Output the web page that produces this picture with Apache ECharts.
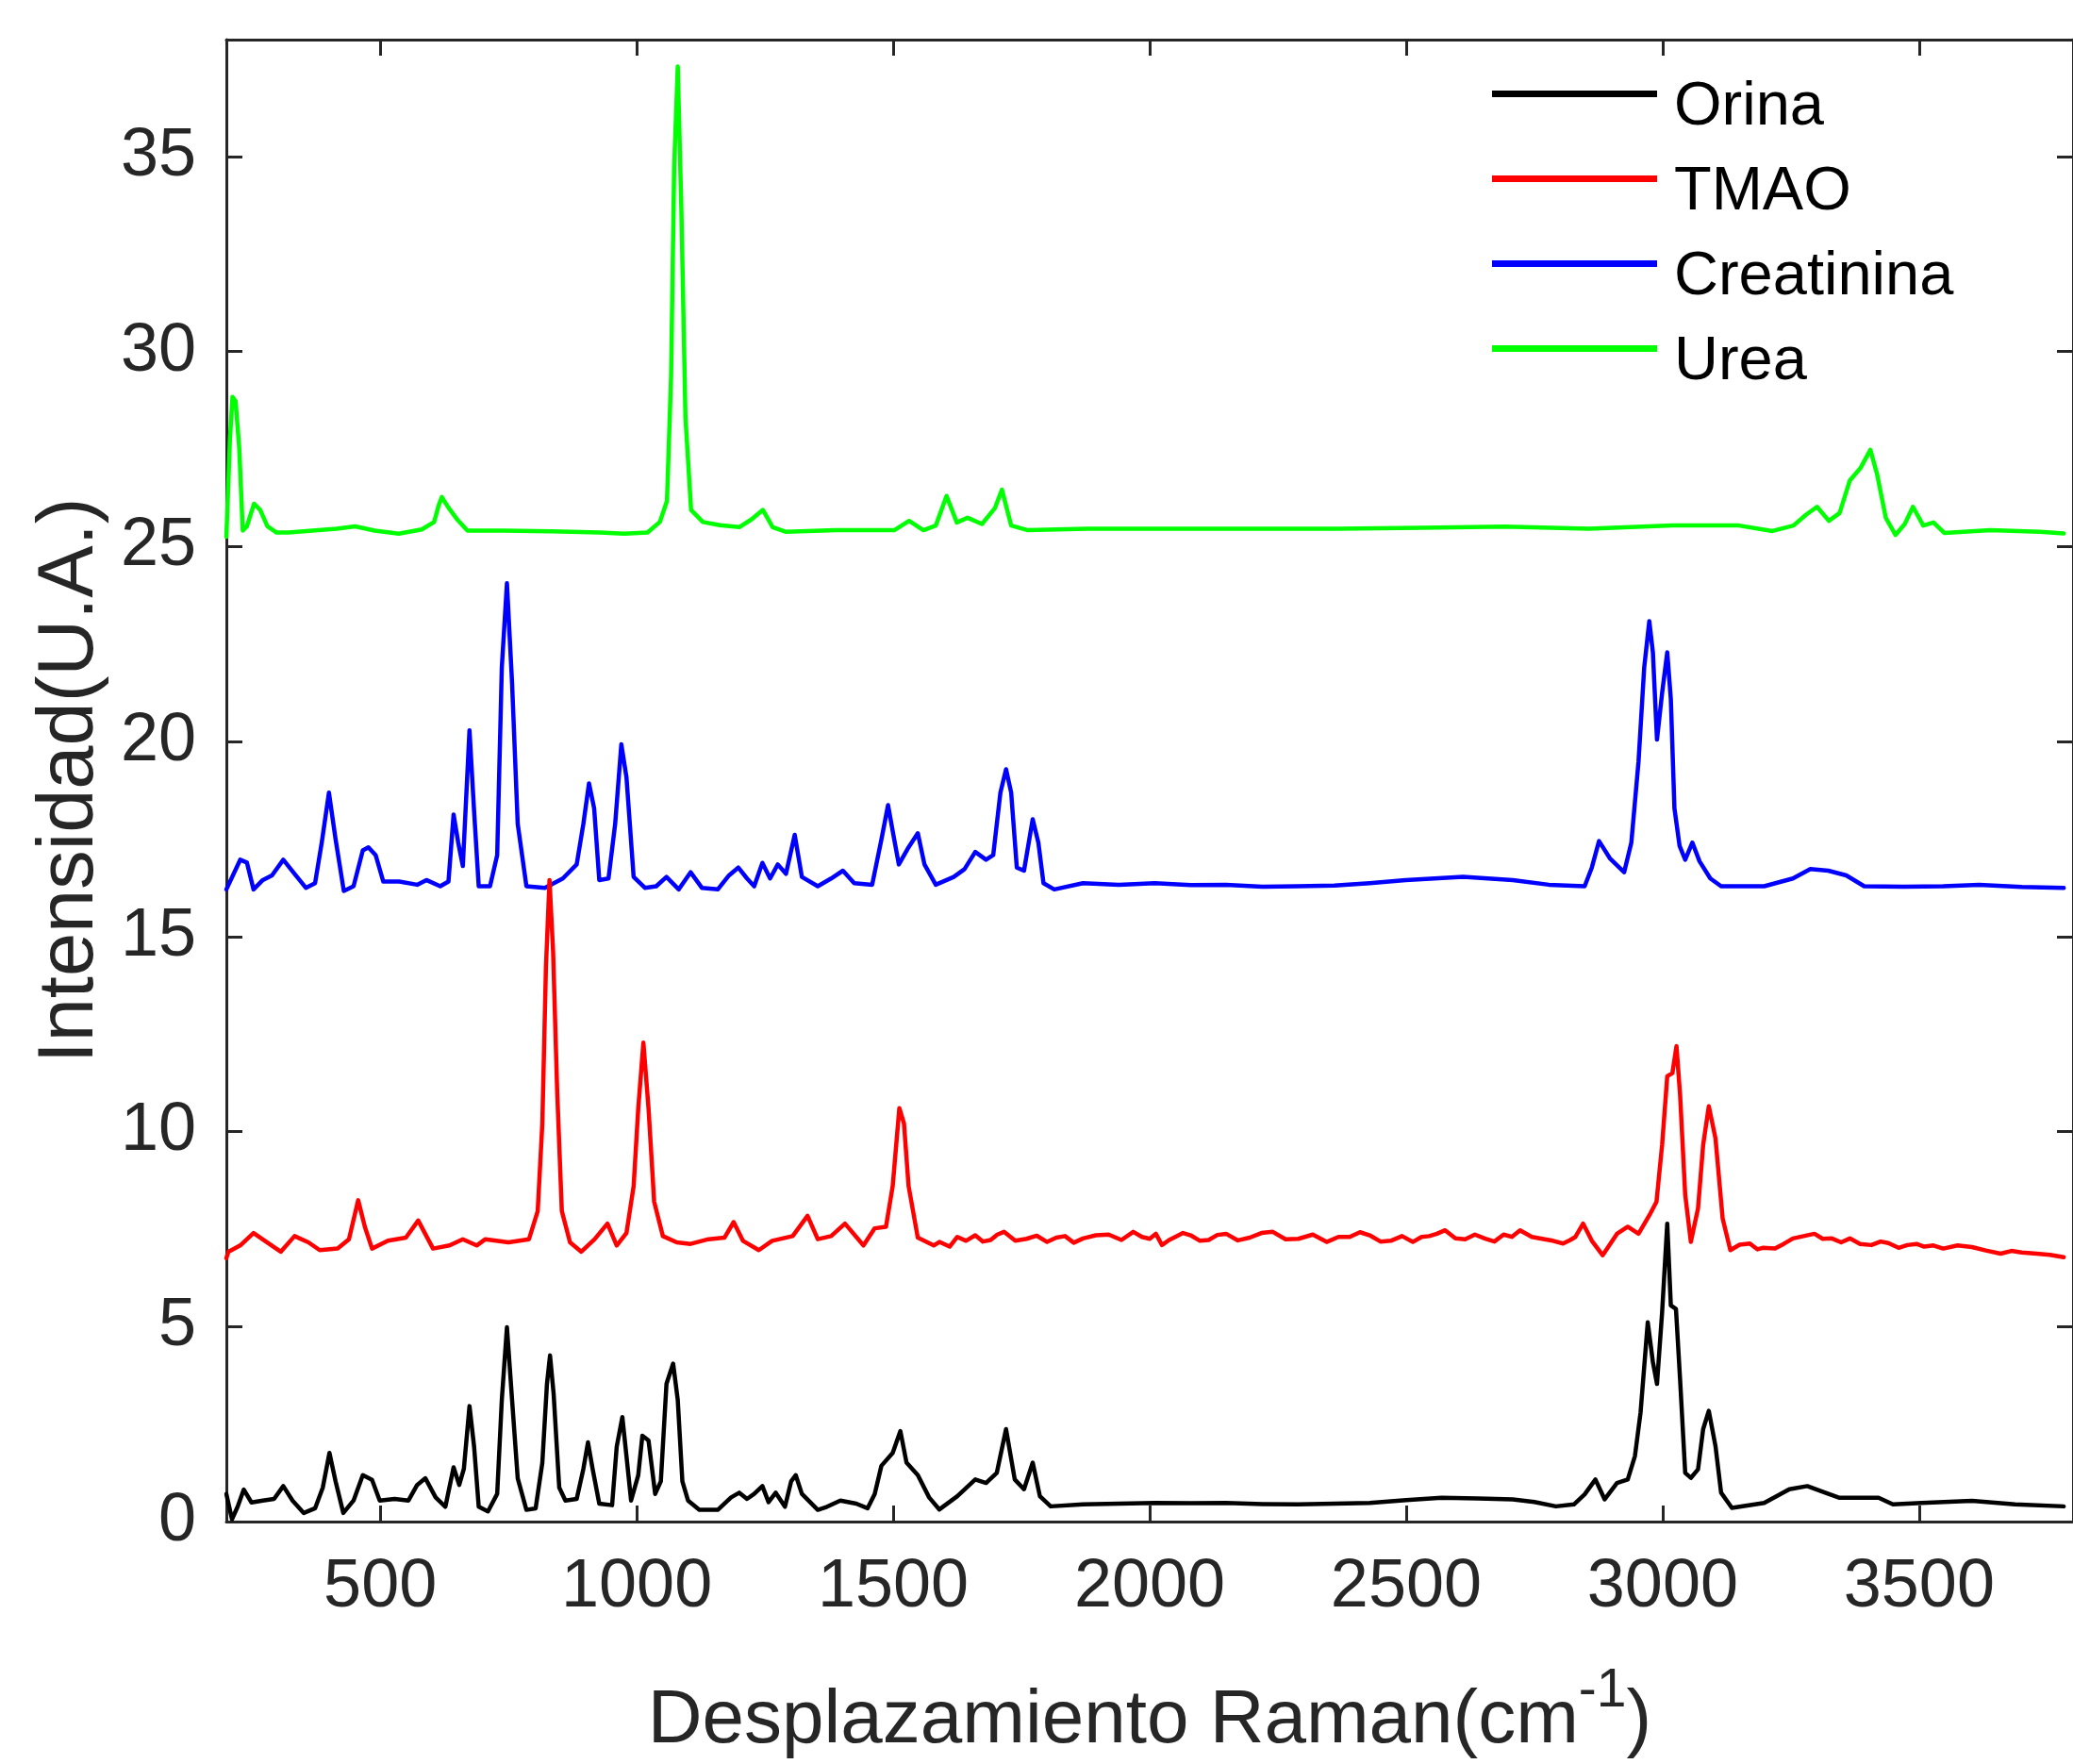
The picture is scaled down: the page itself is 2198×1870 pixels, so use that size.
<!DOCTYPE html>
<html>
<head>
<meta charset="utf-8">
<script src="https://cdn.jsdelivr.net/npm/echarts@6/dist/echarts.min.js"></script>
<style>
html,body{margin:0;padding:0;background:#fff;}
#chart{width:2198px;height:1870px;}
</style>
</head>
<body>
<div id="chart"></div>
<script>
// ---- data (Raman shift cm-1, intensity U.A.) ----
const seriesNames = ['Orina', 'TMAO', 'Creatinina', 'Urea'];
const xTicks = [500, 1000, 1500, 2000, 2500, 3000, 3500];
const yTicks = [0, 5, 10, 15, 20, 25, 30, 35];

const orina = [
[200,0.71],[211,0.06],[222,0.38],[234,0.82],[249,0.49],[271,0.54],[293,0.58],[311,0.91],[329,0.54],[351,0.22],
[373,0.34],[388,0.87],[401,1.76],[413,1.03],[428,0.22],[448,0.54],[466,1.19],[484,1.07],[499,0.54],[528,0.58],
[555,0.54],[572,0.94],[588,1.11],[608,0.62],[627,0.38],[643,1.39],[654,0.94],[663,1.35],[674,2.96],[683,1.92],
[692,0.38],[710,0.26],[728,0.71],[737,3.12],[747,4.98],[757,3.12],[768,1.11],[785,0.30],[803,0.34],[816,1.51],
[825,3.53],[831,4.26],[838,3.28],[849,0.87],[861,0.54],[883,0.58],[896,1.35],[905,2.03],[914,1.35],[927,0.46],
[952,0.42],[961,1.92],[972,2.68],[980,1.68],[989,0.54],[1003,1.19],[1011,2.20],[1023,2.08],[1036,0.71],[1047,1.03],
[1058,3.53],[1071,4.05],[1080,3.12],[1089,1.03],[1100,0.54],[1122,0.30],[1158,0.30],[1184,0.62],[1200,0.74],[1215,0.58],
[1229,0.71],[1245,0.91],[1257,0.50],[1271,0.74],[1289,0.38],[1301,1.03],[1310,1.19],[1322,0.71],[1353,0.30],[1371,0.38],
[1397,0.54],[1428,0.46],[1450,0.34],[1464,0.71],[1477,1.43],[1499,1.76],[1514,2.32],[1526,1.51],[1548,1.19],[1570,0.62],
[1590,0.31],[1625,0.65],[1660,1.08],[1681,0.99],[1702,1.25],[1720,2.37],[1737,1.08],[1755,0.83],[1772,1.51],[1786,0.65],
[1807,0.39],[1870,0.44],[1940,0.46],[2010,0.48],[2080,0.47],[2149,0.48],[2220,0.45],[2289,0.44],[2360,0.46],[2429,0.48],
[2500,0.55],[2569,0.61],[2640,0.59],[2708,0.57],[2750,0.50],[2792,0.39],[2827,0.44],[2848,0.70],[2869,1.08],[2887,0.57],
[2911,0.99],[2932,1.08],[2946,1.68],[2957,2.80],[2971,5.11],[2981,4.09],[2989,3.53],[2999,5.37],[3009,7.64],[3016,5.54],
[3026,5.45],[3034,3.65],[3044,1.25],[3055,1.12],[3069,1.34],[3079,2.37],[3090,2.84],[3103,1.94],[3114,0.74],[3135,0.35],
[3198,0.48],[3247,0.83],[3282,0.91],[3317,0.74],[3345,0.61],[3421,0.61],[3449,0.44],[3505,0.48],[3603,0.53],[3687,0.44],
[3782,0.39]
];

const tmao = [
[200,6.75],[204,6.92],[227,7.08],[253,7.40],[275,7.20],[306,6.92],[333,7.32],[360,7.16],[382,6.96],[417,7.00],
[439,7.24],[457,8.24],[470,7.56],[484,7.00],[515,7.20],[550,7.28],[574,7.72],[590,7.32],[603,7.00],[635,7.08],
[661,7.24],[688,7.08],[705,7.24],[750,7.16],[790,7.24],[807,7.96],[816,10.21],[823,14.21],[830,16.45],[837,14.61],
[845,11.01],[854,7.96],[870,7.16],[892,6.92],[918,7.24],[943,7.64],[961,7.08],[980,7.40],[994,8.60],[1003,10.60],
[1013,12.28],[1023,10.60],[1034,8.20],[1051,7.32],[1078,7.16],[1105,7.12],[1140,7.24],[1171,7.28],[1189,7.68],[1207,7.20],
[1238,6.96],[1264,7.20],[1304,7.32],[1333,7.84],[1353,7.24],[1379,7.32],[1406,7.64],[1442,7.08],[1464,7.52],[1486,7.56],
[1499,8.60],[1512,10.60],[1521,10.21],[1530,8.60],[1548,7.28],[1579,7.08],[1590,7.17],[1610,7.05],[1625,7.30],[1642,7.20],
[1660,7.34],[1675,7.18],[1690,7.22],[1703,7.36],[1716,7.43],[1738,7.20],[1760,7.25],[1780,7.33],[1800,7.17],[1818,7.28],
[1835,7.32],[1852,7.15],[1870,7.26],[1895,7.34],[1920,7.36],[1945,7.22],[1968,7.43],[1985,7.30],[2000,7.25],[2012,7.38],
[2024,7.09],[2038,7.22],[2050,7.30],[2065,7.40],[2080,7.34],[2098,7.20],[2115,7.22],[2132,7.35],[2149,7.38],[2172,7.21],
[2195,7.28],[2218,7.40],[2240,7.43],[2265,7.24],[2290,7.25],[2318,7.36],[2345,7.17],[2368,7.30],[2390,7.30],[2410,7.42],
[2429,7.34],[2450,7.18],[2470,7.20],[2492,7.32],[2513,7.17],[2530,7.30],[2545,7.32],[2560,7.38],[2576,7.47],[2596,7.26],
[2615,7.24],[2634,7.36],[2653,7.26],[2672,7.18],[2690,7.36],[2706,7.30],[2722,7.47],[2745,7.30],[2765,7.25],[2786,7.20],
[2806,7.13],[2820,7.22],[2830,7.30],[2845,7.64],[2862,7.20],[2883,6.83],[2911,7.38],[2932,7.56],[2953,7.38],[2974,7.85],
[2988,8.20],[2999,9.66],[3009,11.42],[3019,11.50],[3027,12.19],[3034,10.95],[3044,8.38],[3055,7.17],[3069,8.03],[3079,9.66],
[3090,10.65],[3103,9.83],[3117,7.77],[3132,6.96],[3150,7.10],[3170,7.13],[3185,6.98],[3195,7.02],[3219,7.00],[3236,7.12],
[3254,7.26],[3275,7.32],[3296,7.38],[3312,7.25],[3330,7.26],[3348,7.16],[3365,7.26],[3385,7.12],[3407,7.09],[3425,7.18],
[3440,7.14],[3460,7.02],[3477,7.09],[3495,7.12],[3510,7.05],[3528,7.08],[3547,7.00],[3575,7.08],[3603,7.04],[3630,6.95],
[3659,6.87],[3680,6.94],[3700,6.90],[3729,6.87],[3755,6.84],[3782,6.78]
];

const creatinina = [
[200,16.21],[227,16.97],[240,16.90],[253,16.21],[271,16.45],[289,16.57],[311,16.97],[333,16.61],[355,16.25],[373,16.37],
[386,17.41],[400,18.69],[413,17.49],[429,16.17],[448,16.29],[466,17.21],[477,17.29],[491,17.09],[506,16.41],[537,16.41],
[572,16.33],[590,16.45],[617,16.29],[633,16.41],[643,18.13],[652,17.41],[661,16.81],[674,20.29],[683,18.21],[692,16.29],
[714,16.29],[728,17.09],[737,21.90],[747,24.06],[757,21.50],[768,17.89],[785,16.29],[821,16.25],[856,16.49],[883,16.85],
[896,17.89],[907,18.93],[917,18.29],[927,16.45],[945,16.49],[958,17.89],[970,19.93],[980,19.09],[994,16.53],[1016,16.25],
[1038,16.29],[1058,16.53],[1082,16.21],[1105,16.65],[1127,16.25],[1158,16.21],[1180,16.57],[1198,16.77],[1215,16.49],[1229,16.29],
[1245,16.89],[1260,16.49],[1275,16.85],[1291,16.61],[1308,17.61],[1322,16.53],[1353,16.29],[1379,16.49],[1402,16.69],[1424,16.37],
[1459,16.33],[1477,17.49],[1490,18.37],[1502,17.49],[1511,16.85],[1530,17.29],[1548,17.65],[1561,16.85],[1583,16.33],[1618,16.53],
[1639,16.73],[1660,17.17],[1681,16.97],[1695,17.09],[1709,18.69],[1720,19.29],[1730,18.69],[1741,16.77],[1755,16.69],[1772,18.01],
[1783,17.41],[1793,16.37],[1814,16.21],[1870,16.37],[1940,16.33],[2010,16.37],[2080,16.32],[2149,16.33],[2220,16.28],[2289,16.29],
[2360,16.31],[2429,16.37],[2499,16.45],[2611,16.53],[2708,16.45],[2778,16.33],[2848,16.29],[2862,16.77],[2876,17.45],[2897,17.01],
[2925,16.65],[2939,17.41],[2953,19.49],[2964,21.89],[2974,23.09],[2981,22.29],[2989,20.05],[2999,21.25],[3009,22.29],[3016,21.09],
[3023,18.29],[3033,17.33],[3044,16.97],[3058,17.41],[3072,16.93],[3093,16.49],[3114,16.29],[3198,16.29],[3254,16.49],[3288,16.73],
[3323,16.69],[3358,16.57],[3393,16.29],[3470,16.28],[3547,16.29],[3617,16.33],[3700,16.27],[3782,16.25]
];

const urea = [
[200,25.25],[207,27.76],[212,28.84],[218,28.73],[225,27.55],[232,25.41],[240,25.52],[254,26.10],[266,25.94],[280,25.52],
[298,25.36],[321,25.36],[368,25.41],[415,25.46],[451,25.52],[489,25.41],[536,25.33],[581,25.44],[605,25.63],[614,26.06],
[620,26.27],[633,26.00],[651,25.68],[670,25.41],[740,25.41],[833,25.39],[928,25.36],[975,25.33],[1021,25.36],[1045,25.63],
[1059,26.17],[1067,29.38],[1073,34.74],[1080,37.31],[1087,33.67],[1095,28.31],[1106,25.94],[1129,25.63],[1162,25.55],[1200,25.50],
[1224,25.70],[1246,25.94],[1265,25.50],[1290,25.38],[1388,25.42],[1502,25.42],[1531,25.66],[1559,25.42],[1583,25.54],[1604,26.30],
[1624,25.62],[1645,25.74],[1673,25.58],[1698,25.98],[1712,26.46],[1730,25.54],[1763,25.42],[1877,25.46],[2040,25.46],[2203,25.46],
[2366,25.46],[2529,25.48],[2692,25.51],[2856,25.46],[3019,25.54],[3149,25.54],[3214,25.40],[3255,25.54],[3280,25.82],[3301,26.02],
[3324,25.66],[3345,25.86],[3365,26.70],[3386,27.02],[3405,27.48],[3418,26.86],[3435,25.74],[3454,25.30],[3472,25.58],[3488,26.02],
[3508,25.54],[3528,25.62],[3549,25.35],[3639,25.42],[3736,25.38],[3782,25.34]
];

const seriesData = [orina, tmao, creatinina, urea];
const seriesColors = ['#000000', '#ff0000', '#0000ff', '#00ff00'];

// ---- chart ----
const FONT = '"Liberation Sans", Arial, Helvetica, sans-serif';
const AX = '#262626';
const chart = echarts.init(document.getElementById('chart'), null, {renderer: 'canvas'});

const baseAxisLine = {show: true, onZero: false, lineStyle: {color: AX, width: 3}};
const baseTick = {show: true, inside: true, length: 17, lineStyle: {color: AX, width: 3}};

const option = {
  backgroundColor: '#ffffff',
  animation: false,
  grid: {left: 240, top: 42, right: -9, bottom: 245, containLabel: false},
  legend: {
    orient: 'vertical',
    left: 1577,
    top: 77,
    // bar drawn at the top of a taller (invisible) icon box so the label sits a bit lower
    icon: 'path://M0,0L175,0L175,7L0,7Z M0,37L0,37',
    symbolKeepAspect: false,
    itemWidth: 175,
    itemHeight: 37,
    itemGap: 25,
    itemStyle: {borderWidth: 0},
    data: seriesNames,
    textStyle: {fontFamily: FONT, fontSize: 65, color: '#000', lineHeight: 64, padding: [0, 0, 0, 13]}
  },
  xAxis: [
    {
      type: 'value', min: 200, max: 3800, position: 'bottom',
      axisLine: baseAxisLine,
      axisTick: Object.assign({customValues: xTicks}, baseTick),
      axisLabel: {customValues: xTicks, margin: 34, fontFamily: FONT, fontSize: 72, color: AX,
                  formatter: function (v) { return String(v); }},
      splitLine: {show: false},
      name: '{a|Desplazamiento Raman(cm}{s|-1}{a|)}',
      nameLocation: 'middle',
      nameGap: 152,
      nameTextStyle: {
        fontFamily: FONT, color: AX, lineHeight: 100,
        rich: {
          a: {fontFamily: FONT, fontSize: 80, color: AX, verticalAlign: 'bottom'},
          s: {fontFamily: FONT, fontSize: 57, color: AX, verticalAlign: 'top'}
        }
      }
    },
    {
      type: 'value', min: 200, max: 3800, position: 'top',
      axisLine: baseAxisLine,
      axisTick: Object.assign({customValues: xTicks}, baseTick),
      axisLabel: {show: false},
      splitLine: {show: false}
    }
  ],
  yAxis: [
    {
      type: 'value', min: 0, max: 38, position: 'left',
      axisLine: baseAxisLine,
      axisTick: Object.assign({customValues: yTicks}, baseTick),
      axisLabel: {customValues: yTicks, margin: 32, fontFamily: FONT, fontSize: 72, color: AX,
                  formatter: function (v) { return String(v); }},
      splitLine: {show: false},
      name: 'Intensidad(U.A.)',
      nameLocation: 'middle',
      nameGap: 114,
      nameTextStyle: {fontFamily: FONT, fontSize: 83, color: AX}
    },
    {
      type: 'value', min: 0, max: 38, position: 'right',
      axisLine: baseAxisLine,
      axisTick: Object.assign({customValues: yTicks}, baseTick),
      axisLabel: {show: false},
      splitLine: {show: false}
    }
  ],
  series: seriesNames.map((name, i) => ({
    name: name,
    type: 'line',
    xAxisIndex: 0,
    yAxisIndex: 0,
    data: seriesData[i],
    showSymbol: false,
    symbol: 'none',
    smooth: false,
    clip: true,
    z: i === 1 ? 4 : 2 + i * 0.1,
    color: seriesColors[i],
    lineStyle: {color: seriesColors[i], width: 4.5, join: 'round', cap: 'round'}
  }))
};
chart.setOption(option);
</script>
</body>
</html>
